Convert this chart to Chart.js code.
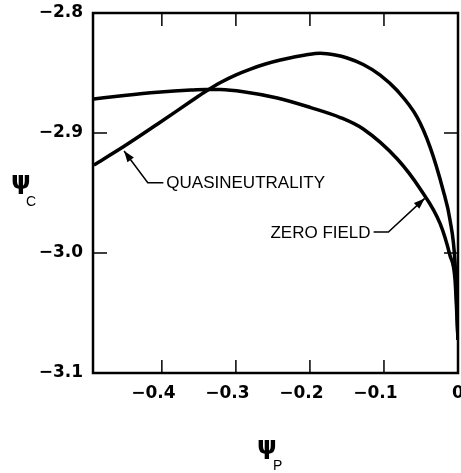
<!DOCTYPE html>
<html>
<head>
<meta charset="utf-8">
<script src="https://cdn.jsdelivr.net/npm/chart.js@4.4.1/dist/chart.umd.min.js"></script>
<style>
  body { margin: 0; background: #fff; }
  #wrap { width: 461px; height: 473px; }
</style>
</head>
<body>
<div id="wrap"><canvas id="myChart" width="461" height="473"></canvas></div>
<script>
// psi_P values (x) and psi_C values (y)
const zeroFieldX = [-0.492, -0.451, -0.406, -0.361, -0.341, -0.321, -0.290, -0.244, -0.199, -0.159, -0.128, -0.082, -0.051, -0.024, -0.011, -0.004, 0];
const zeroFieldY = [-2.8717, -2.8688, -2.8661, -2.8642, -2.8637, -2.8638, -2.8656, -2.8708, -2.8788, -2.8871, -2.8967, -2.9217, -2.9467, -2.9758, -3.0017, -3.0225, -3.0725];

const quasiX = [-0.4919, -0.4515, -0.4057, -0.3612, -0.3410, -0.3208, -0.3005, -0.2803, -0.2601, -0.2399, -0.2197, -0.2062, -0.186, -0.1658, -0.1496, -0.1280, -0.1051, -0.0822, -0.0553, -0.0377, -0.0202, -0.0108, -0.0040, 0];
const quasiY = [-2.9267, -2.9113, -2.8925, -2.8738, -2.8654, -2.8579, -2.8517, -2.8467, -2.8425, -2.8392, -2.8365, -2.8350, -2.8336, -2.8350, -2.8375, -2.8429, -2.8517, -2.8646, -2.8867, -2.9117, -2.9475, -2.9725, -3.0083, -3.0725];

const xTicks = [-0.4, -0.3, -0.2, -0.1, 0];
const yTicks = [-3.1, -3.0, -2.9, -2.8];
const xMin = -0.493, xMax = 0;
const yMin = -3.1, yMax = -2.8;

// label text and where the arrows point (data coords)
const labels = [
  { text: "QUASINEUTRALITY", tip: [-0.451, -2.915], elbow: [-0.419, -2.9415], end: [-0.398, -2.9415], align: "left" },
  { text: "ZERO FIELD", tip: [-0.045, -2.9545], elbow: [-0.094, -2.9825], end: [-0.114, -2.9825], align: "right" }
];

function toPoints(xs, ys) {
  return xs.map(function (x, i) { return { x: x, y: ys[i] }; });
}

function minusLabel(v) {
  if (v === 0) return "0";
  return (v < 0 ? "\u2212" : "") + Math.abs(v).toFixed(1);
}

function drawArrow(ctx, x1, y1, x2, y2) {
  // arrowhead at x2,y2
  const a = Math.atan2(y2 - y1, x2 - x1);
  const len = 11, half = 4;
  ctx.beginPath();
  ctx.moveTo(x2, y2);
  ctx.lineTo(x2 - len * Math.cos(a) + half * Math.sin(a), y2 - len * Math.sin(a) - half * Math.cos(a));
  ctx.lineTo(x2 - len * Math.cos(a) - half * Math.sin(a), y2 - len * Math.sin(a) + half * Math.cos(a));
  ctx.closePath();
  ctx.fill();
}

const framePlugin = {
  id: "frame",
  afterDraw: function (chart) {
    const ctx = chart.ctx;
    const area = chart.chartArea;
    const xs = chart.scales.x, ys = chart.scales.y;
    ctx.save();
    ctx.strokeStyle = "#000";
    ctx.fillStyle = "#000";

    // box round the plot
    ctx.lineWidth = 2.5;
    ctx.strokeRect(area.left, area.top, area.right - area.left, area.bottom - area.top);

    // inward tick marks on all four sides
    ctx.lineWidth = 1.5;
    ctx.beginPath();
    xTicks.forEach(function (v) {
      if (v <= xMin || v >= xMax) return;
      const px = xs.getPixelForValue(v);
      ctx.moveTo(px, area.bottom); ctx.lineTo(px, area.bottom - 13);
      ctx.moveTo(px, area.top); ctx.lineTo(px, area.top + 13);
    });
    yTicks.forEach(function (v) {
      if (v <= yMin || v >= yMax) return;
      const py = ys.getPixelForValue(v);
      ctx.moveTo(area.left, py); ctx.lineTo(area.left + 14, py);
      ctx.moveTo(area.right, py); ctx.lineTo(area.right - 14, py);
    });
    ctx.stroke();

    // curve labels with leader arrows
    ctx.font = "17px 'Liberation Sans', Arial, sans-serif";
    ctx.textBaseline = "middle";
    labels.forEach(function (l) {
      const tx = xs.getPixelForValue(l.tip[0]), ty = ys.getPixelForValue(l.tip[1]);
      const ex = xs.getPixelForValue(l.elbow[0]), ey = ys.getPixelForValue(l.elbow[1]);
      const nx = xs.getPixelForValue(l.end[0]), ny = ys.getPixelForValue(l.end[1]);
      ctx.lineWidth = 1.5;
      ctx.beginPath();
      ctx.moveTo(nx, ny);
      ctx.lineTo(ex, ey);
      ctx.lineTo(tx, ty);
      ctx.stroke();
      drawArrow(ctx, ex, ey, tx, ty);
      ctx.textAlign = l.align;
      ctx.fillText(l.text, l.align === "left" ? nx + 3 : nx - 3, ny + 1);
    });

    // axis titles, psi with subscript
    ctx.textAlign = "left";
    ctx.font = "bold 25px 'DejaVu Sans', sans-serif";
    ctx.fillText("\u03c8", 11, 182);
    ctx.fillText("\u03c8", 257, 447);
    ctx.font = "14px 'Liberation Sans', Arial, sans-serif";
    ctx.fillText("C", 26, 202);
    ctx.fillText("P", 273, 466);
    ctx.restore();
  }
};

new Chart("myChart", {
  type: "line",
  data: {
    datasets: [{
      label: "Zero field",
      data: toPoints(zeroFieldX, zeroFieldY),
      borderColor: "#000",
      borderWidth: 3.5,
      pointRadius: 0,
      fill: false,
      cubicInterpolationMode: "monotone"
    }, {
      label: "Quasineutrality",
      data: toPoints(quasiX, quasiY),
      borderColor: "#000",
      borderWidth: 3.5,
      pointRadius: 0,
      fill: false,
      cubicInterpolationMode: "monotone"
    }]
  },
  options: {
    responsive: false,
    animation: false,
    devicePixelRatio: 1,
    layout: { autoPadding: false, padding: { top: 13, right: 3, left: 0, bottom: 0 } },
    plugins: { legend: { display: false }, tooltip: { enabled: false } },
    scales: {
      x: {
        type: "linear",
        min: xMin,
        max: xMax,
        afterBuildTicks: function (scale) { scale.ticks = xTicks.map(function (v) { return { value: v }; }); },
        afterFit: function (scale) {
          scale.height = 100;
          scale.paddingLeft = 0;
          scale.paddingRight = 0;
        },
        grid: { display: false, drawTicks: false },
        border: { display: false },
        ticks: {
          padding: 10,
          color: "#000",
          maxRotation: 0,
          autoSkip: false,
          font: { family: "'DejaVu Sans', sans-serif", size: 17, weight: "bold" },
          callback: function (v) { return v === 0 ? "0" : minusLabel(v) + "\u2003"; }
        }
      },
      y: {
        type: "linear",
        min: yMin,
        max: yMax,
        afterBuildTicks: function (scale) { scale.ticks = yTicks.map(function (v) { return { value: v }; }); },
        afterFit: function (scale) {
          scale.width = 93;
          scale.paddingTop = 0;
          scale.paddingBottom = 0;
        },
        grid: { display: false, drawTicks: false },
        border: { display: false },
        ticks: {
          padding: 10,
          color: "#000",
          autoSkip: false,
          font: { family: "'DejaVu Sans', sans-serif", size: 17, weight: "bold" },
          callback: function (v) { return minusLabel(v); }
        }
      }
    }
  },
  plugins: [framePlugin]
});
</script>
</body>
</html>
